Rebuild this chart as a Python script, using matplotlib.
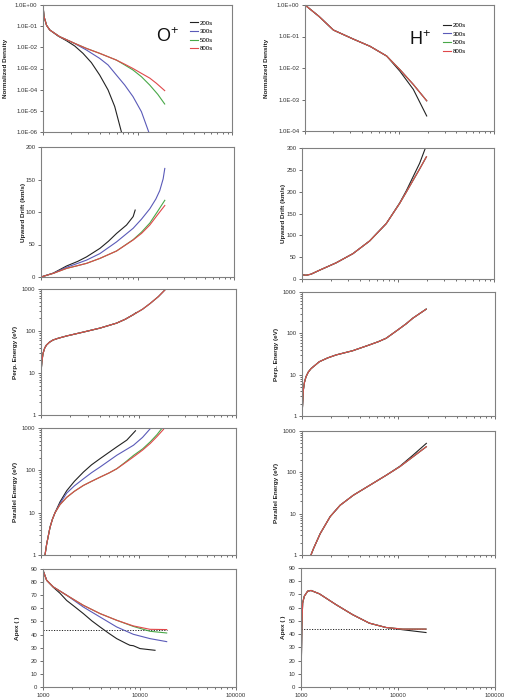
import matplotlib
matplotlib.use("Agg")
import matplotlib.pyplot as plt
from matplotlib.ticker import FixedLocator, LogLocator, NullFormatter, FuncFormatter, NullLocator

plt.rcParams['font.family'] = ['Liberation Sans', 'DejaVu Sans']
plt.rcParams['mathtext.fontset'] = 'custom'
plt.rcParams['mathtext.rm'] = 'Liberation Sans'
plt.rcParams['mathtext.default'] = 'regular'

# series names and colours (drawn in this order, 800s on top)
run_labels = ['200s', '300s', '500s', '800s']
run_colors = ['#222222', '#5a5ab8', '#48a848', '#e0484a']

# ---- O+ normalized density
o_dens_x_200 = [1000, 1025, 1065, 1090, 1180, 1442, 1767, 2165, 2650, 3250, 3980, 4880, 5740, 6760]
o_dens_y_200 = [1.0, 0.28, 0.16, 0.11, 0.066, 0.0343, 0.0207, 0.0116, 0.0052, 1.9e-3, 4.9e-4, 9.7e-5, 1.6e-5, 1e-6]
o_dens_x_300 = [1000, 1025, 1065, 1090, 1180, 1500, 2080, 2877, 3980, 4880, 5980, 7320, 8960, 11000, 13150]
o_dens_y_300 = [1.0, 0.28, 0.16, 0.11, 0.066, 0.032, 0.0166, 0.0075, 0.003, 1.47e-3, 4.9e-4, 1.66e-4, 4.7e-5, 9.1e-6, 1e-6]
o_dens_x_500 = [1000, 1025, 1065, 1090, 1180, 1500, 2080, 2880, 3980, 4880, 5980, 7320, 8960, 11000, 13460, 16400, 19400]
o_dens_y_500 = [1.0, 0.28, 0.16, 0.11, 0.066, 0.032, 0.0166, 0.0089, 0.0052, 0.0036, 0.0025, 1.47e-3, 8.5e-4, 4.1e-4, 1.66e-4, 6e-5, 2.1e-5]
o_dens_x_800 = [1000, 1025, 1065, 1090, 1180, 1500, 2080, 2880, 3980, 4880, 5980, 7320, 8960, 11000, 13500, 15850, 19400]
o_dens_y_800 = [1.0, 0.28, 0.16, 0.11, 0.066, 0.032, 0.0166, 0.0089, 0.0052, 0.0036, 0.0025, 1.6e-3, 1.0e-3, 5.9e-4, 3.5e-4, 2e-4, 9e-5]

# ---- H+ normalized density
h_dens_x = [1000, 1400, 2000, 3240, 4870, 7310, 10100, 14000, 19400]
h_dens_y_200 = [1.0, 0.44, 0.16, 0.083, 0.049, 0.024, 0.0079, 0.0021, 0.0003]
h_dens_y_300 = [1.0, 0.44, 0.16, 0.083, 0.049, 0.024, 0.0089, 0.003, 0.00091]
h_dens_y_500 = [1.0, 0.44, 0.16, 0.083, 0.049, 0.024, 0.0089, 0.003, 0.00091]
h_dens_y_800 = [1.0, 0.44, 0.16, 0.083, 0.049, 0.024, 0.0089, 0.003, 0.00091]

# ---- O+ upward drift (km/s)
o_drift_x_200 = [1000, 1340, 1844, 2400, 2967, 4074, 5000, 6064, 7700, 9020, 9460]
o_drift_y_200 = [0, 6, 17, 24, 31, 44, 55, 67, 80, 93, 103]
o_drift_x_300 = [1000, 1340, 1844, 2400, 2967, 4074, 6064, 9020, 11000, 13420, 15500, 17020, 18440, 19180]
o_drift_y_300 = [0, 5.8, 15, 21, 26, 36, 54, 75, 89, 105, 120, 133, 151, 167]
o_drift_x_500 = [1000, 1340, 1844, 2400, 2967, 4074, 6064, 9020, 11000, 13420, 16000, 19180]
o_drift_y_500 = [0, 5.6, 13.3, 17.5, 21, 28.6, 40, 57.5, 69, 83, 100, 118]
o_drift_x_800 = [1000, 1340, 1844, 2400, 2967, 4074, 6064, 9020, 11000, 13420, 16000, 19180]
o_drift_y_800 = [0, 5.6, 13.3, 17.5, 21, 28.6, 40, 57, 67, 80, 95, 110]

# ---- H+ upward drift (km/s)
h_drift_x_200 = [1000, 1100, 1240, 1518, 2266, 3388, 5058, 7551, 10400, 12200, 14350, 16800, 19300]
h_drift_y_200 = [10, 8.5, 11, 20, 37, 58, 87, 127, 174, 202, 234, 265, 300]
h_drift_x_800 = [1000, 1100, 1240, 1518, 2266, 3388, 5058, 7551, 10400, 12200, 14350, 16800, 19780]
h_drift_y_800 = [10, 8.5, 11, 20, 37, 58, 87, 127, 173, 199, 226, 252, 280]

# ---- O+ perpendicular energy (eV)
o_perp_x = [1000, 1020, 1048, 1090, 1135, 1220, 1328, 1496, 1823, 2704, 4018, 5960, 7300, 8850, 11000, 13130, 16000, 18740]
o_perp_y = [10, 18, 29, 39, 46, 54, 61, 67, 76, 94, 117, 154, 190, 245, 330, 450, 660, 960]
o_perp_x_200 = [1000, 1020, 1048, 1090, 1135, 1220, 1328, 1496, 1823, 2704, 4018, 5960, 7300, 8850, 9460]
o_perp_y_200 = [10, 18, 29, 39, 46, 54, 61, 67, 76, 94, 117, 154, 190, 245, 275]

# ---- H+ perpendicular energy (eV)
h_perp_x = [1000, 1016, 1032, 1060, 1100, 1160, 1240, 1513, 1850, 2254, 3357, 5000, 6200, 7447, 9840, 12000, 14090, 19370]
h_perp_y = [1, 2.0, 4.2, 6.5, 8.9, 11.5, 14, 20.6, 25.5, 30, 38, 52.5, 63, 76, 121, 170, 233, 385]

# ---- O+ parallel energy (eV)
o_para_x_200 = [1099, 1143, 1237, 1310, 1393, 1567, 1835, 2200, 2723, 3300, 4037, 5987, 7590, 9310]
o_para_y_200 = [1, 1.8, 4.5, 7, 10, 18, 33, 55, 91, 135, 189, 358, 518, 860]
o_para_x_300 = [1099, 1143, 1237, 1310, 1393, 1567, 1835, 2200, 2723, 3300, 4037, 5987, 8885, 11000, 13390]
o_para_y_300 = [1, 1.8, 4.5, 7, 10, 16.5, 29, 43, 63, 88, 120, 227, 392, 600, 1000]
o_para_x_500 = [1099, 1143, 1237, 1310, 1393, 1567, 1835, 2200, 2723, 3300, 4037, 5000, 5987, 7300, 8885, 11000, 13180, 15500, 17500]
o_para_y_500 = [1, 1.8, 4.5, 7, 10, 15.5, 23, 32, 44, 55, 69, 87, 109, 155, 225, 320, 470, 700, 1000]
o_para_x_800 = [1099, 1143, 1237, 1310, 1393, 1567, 1835, 2200, 2723, 3300, 4037, 5000, 5987, 7300, 8885, 11000, 13180, 15500, 18060]
o_para_y_800 = [1, 1.8, 4.5, 7, 10, 15.5, 23, 32, 44, 55, 69, 87, 109, 150, 208, 300, 430, 630, 930]

# ---- H+ parallel energy (eV)
h_para_x = [1238, 1319, 1545, 1959, 2485, 3409, 5062, 7519, 10320, 14170, 19440]
h_para_y_200 = [1, 1.45, 3.3, 8.5, 16, 28, 49, 86, 140, 262, 502]
h_para_y_800 = [1, 1.45, 3.3, 8.5, 16, 28, 49, 86, 137, 239, 417]

# ---- O+ apex (deg)
o_apex_x_200 = [1000, 1012, 1091, 1280, 1500, 1759, 2150, 2618, 3200, 3897, 4800, 5800, 7360, 7970, 8630, 10120, 14480]
o_apex_y_200 = [0, 88, 81.4, 76, 71.5, 66, 61, 56, 50.5, 45.8, 41, 36.9, 33, 31.8, 31.5, 29.3, 28]
o_apex_x_300 = [1000, 1012, 1091, 1280, 1759, 2618, 3897, 5800, 8630, 12850, 19130]
o_apex_y_300 = [0, 88, 81.4, 76.3, 70, 61, 53.4, 45.8, 40.2, 36.9, 34.6]
o_apex_x_500 = [1000, 1012, 1091, 1280, 1759, 2618, 3897, 5800, 8630, 12850, 19130]
o_apex_y_500 = [0, 88, 81.4, 76.3, 70, 62.3, 56, 50.9, 46.2, 42.5, 41.2]
o_apex_x_800 = [1000, 1012, 1091, 1280, 1759, 2618, 3897, 5800, 8630, 12850, 19130]
o_apex_y_800 = [0, 88, 81.4, 76.3, 70, 62.3, 56, 50.9, 46.6, 44, 43.8]

# ---- H+ apex (deg)
h_apex_x = [1000, 1020, 1040, 1082, 1172, 1268, 1545, 2296, 3409, 5062, 7519, 11170, 19440]
h_apex_y_200 = [0, 45, 63.6, 68.7, 72.5, 73, 70.5, 62.3, 54.7, 48.3, 45, 43.3, 41.2]
h_apex_y_800 = [0, 45, 63.6, 68.7, 72.5, 73, 70.5, 62.3, 54.7, 48.3, 45, 43.8, 43.8]

# dotted reference apex
ref_apex_x = [1000, 19500]
ref_apex_y = [43.8, 43.8]

W, H = 506, 698
fig = plt.figure(figsize=(W / 100, H / 100), dpi=100)


def add_axes_px(x0, y0, x1, y1):
    return fig.add_axes([x0 / W, 1 - y1 / H, (x1 - x0) / W, (y1 - y0) / H])


def style(ax, bottom_labels=False):
    ax.set_xscale('log')
    ax.set_xlim(1000, 100000)
    for s in ax.spines.values():
        s.set_color('#808080')
        s.set_linewidth(0.8)
    ax.tick_params(axis='both', which='both', direction='out', labelsize=4.3,
                   colors='#333333', width=0.5, pad=1.5)
    ax.tick_params(which='major', length=2.5)
    ax.tick_params(which='minor', length=1.5)
    ax.xaxis.set_major_locator(FixedLocator([1000, 10000, 100000]))
    ax.xaxis.set_minor_locator(LogLocator(base=10, subs=range(2, 10)))
    ax.xaxis.set_minor_formatter(NullFormatter())
    if bottom_labels:
        ax.xaxis.set_major_formatter(FuncFormatter(lambda v, p: f"{v:.0f}"))
    else:
        ax.xaxis.set_major_formatter(NullFormatter())


def ylab(ax, text, xpx, x0, x1):
    ax.set_ylabel(text, fontsize=4.6, fontweight='bold', color='#222222')
    ax.yaxis.set_label_coords((xpx - x0) / (x1 - x0), 0.5)


def curves(ax, series):
    for (xs, ys), c in zip(series, run_colors):
        ax.plot(xs, ys, color=c, lw=0.8)


left = [(43, 5, 232, 132), (41, 147, 234, 277), (41, 289, 236, 415), (41, 428, 236, 555), (43, 569, 236, 687)]
right = [(305, 5, 494, 131), (302, 148, 494, 279), (302, 292, 495, 416), (302, 431, 495, 555), (301, 568, 495, 687)]
left_lab = [8, 26, 18, 18, 20]
right_lab = [269, 286, 279, 279, 286]

sci = FuncFormatter(lambda v, p: f"{v:.1E}")
plain = FuncFormatter(lambda v, p: f"{v:g}")

# row 1: density
ax = add_axes_px(*left[0])
style(ax)
curves(ax, [(o_dens_x_200, o_dens_y_200), (o_dens_x_300, o_dens_y_300),
            (o_dens_x_500, o_dens_y_500), (o_dens_x_800, o_dens_y_800)])
ax.set_yscale('log')
ax.set_ylim(1e-6, 1)
ax.yaxis.set_major_locator(FixedLocator([10.0 ** k for k in range(-6, 1)]))
ax.yaxis.set_major_formatter(sci)
ax.yaxis.set_minor_locator(NullLocator())
ylab(ax, 'Normalized Density', left_lab[0], left[0][0], left[0][2])
ax.text(0.6, 0.71, 'O$^{+}$', transform=ax.transAxes, fontsize=13, color='#111111')
ax.legend(run_labels, loc='upper left', bbox_to_anchor=(0.78, 0.88), frameon=False,
          fontsize=4.4, handlelength=1.3, handletextpad=0.3, labelspacing=0.55,
          borderaxespad=0, borderpad=0)

ax = add_axes_px(*right[0])
style(ax)
curves(ax, [(h_dens_x, h_dens_y_200), (h_dens_x, h_dens_y_300),
            (h_dens_x, h_dens_y_500), (h_dens_x, h_dens_y_800)])
ax.set_yscale('log')
ax.set_ylim(1e-4, 1)
ax.yaxis.set_major_locator(FixedLocator([10.0 ** k for k in range(-4, 1)]))
ax.yaxis.set_major_formatter(sci)
ax.yaxis.set_minor_locator(NullLocator())
ylab(ax, 'Normalized Density', right_lab[0], right[0][0], right[0][2])
ax.text(0.55, 0.68, 'H$^{+}$', transform=ax.transAxes, fontsize=13, color='#111111')
ax.legend(run_labels, loc='upper left', bbox_to_anchor=(0.73, 0.86), frameon=False,
          fontsize=4.4, handlelength=1.3, handletextpad=0.3, labelspacing=0.55,
          borderaxespad=0, borderpad=0)

# row 2: upward drift
ax = add_axes_px(*left[1])
style(ax)
curves(ax, [(o_drift_x_200, o_drift_y_200), (o_drift_x_300, o_drift_y_300),
            (o_drift_x_500, o_drift_y_500), (o_drift_x_800, o_drift_y_800)])
ax.set_ylim(0, 200)
ax.yaxis.set_major_locator(FixedLocator(range(0, 201, 50)))
ylab(ax, 'Upward Drift (km/s)', left_lab[1], left[1][0], left[1][2])

ax = add_axes_px(*right[1])
style(ax)
curves(ax, [(h_drift_x_200, h_drift_y_200), (h_drift_x_800, h_drift_y_800),
            (h_drift_x_800, h_drift_y_800), (h_drift_x_800, h_drift_y_800)])
ax.set_ylim(0, 300)
ax.yaxis.set_major_locator(FixedLocator(range(0, 301, 50)))
ylab(ax, 'Upward Drift (km/s)', right_lab[1], right[1][0], right[1][2])


# rows 3-4: energies
def energy_axis(ax):
    ax.set_yscale('log')
    ax.set_ylim(1, 1000)
    ax.yaxis.set_major_locator(FixedLocator([1, 10, 100, 1000]))
    ax.yaxis.set_major_formatter(plain)
    ax.yaxis.set_minor_locator(LogLocator(base=10, subs=range(2, 10)))
    ax.yaxis.set_minor_formatter(NullFormatter())


ax = add_axes_px(*left[2])
style(ax)
curves(ax, [(o_perp_x_200, o_perp_y_200), (o_perp_x, o_perp_y),
            (o_perp_x, o_perp_y), (o_perp_x, o_perp_y)])
energy_axis(ax)
ylab(ax, 'Perp. Energy (eV)', left_lab[2], left[2][0], left[2][2])

ax = add_axes_px(*right[2])
style(ax)
curves(ax, [(h_perp_x, h_perp_y), (h_perp_x, h_perp_y),
            (h_perp_x, h_perp_y), (h_perp_x, h_perp_y)])
energy_axis(ax)
ylab(ax, 'Perp. Energy (eV)', right_lab[2], right[2][0], right[2][2])

ax = add_axes_px(*left[3])
style(ax)
curves(ax, [(o_para_x_200, o_para_y_200), (o_para_x_300, o_para_y_300),
            (o_para_x_500, o_para_y_500), (o_para_x_800, o_para_y_800)])
energy_axis(ax)
ylab(ax, 'Parallel Energy (eV)', left_lab[3], left[3][0], left[3][2])

ax = add_axes_px(*right[3])
style(ax)
curves(ax, [(h_para_x, h_para_y_200), (h_para_x, h_para_y_800),
            (h_para_x, h_para_y_800), (h_para_x, h_para_y_800)])
energy_axis(ax)
ylab(ax, 'Parallel Energy (eV)', right_lab[3], right[3][0], right[3][2])

# row 5: apex
ax = add_axes_px(*left[4])
style(ax, bottom_labels=True)
ax.plot(ref_apex_x, ref_apex_y, color='#222222', lw=0.7, ls=(0, (1.2, 1.5)))
curves(ax, [(o_apex_x_200, o_apex_y_200), (o_apex_x_300, o_apex_y_300),
            (o_apex_x_500, o_apex_y_500), (o_apex_x_800, o_apex_y_800)])
ax.set_ylim(0, 90)
ax.yaxis.set_major_locator(FixedLocator(range(0, 91, 10)))
ylab(ax, 'Apex ( )', left_lab[4], left[4][0], left[4][2])

ax = add_axes_px(*right[4])
style(ax, bottom_labels=True)
ax.plot(ref_apex_x, ref_apex_y, color='#222222', lw=0.7, ls=(0, (1.2, 1.5)))
curves(ax, [(h_apex_x, h_apex_y_200), (h_apex_x, h_apex_y_800),
            (h_apex_x, h_apex_y_800), (h_apex_x, h_apex_y_800)])
ax.set_ylim(0, 90)
ax.yaxis.set_major_locator(FixedLocator(range(0, 91, 10)))
ylab(ax, 'Apex ( )', right_lab[4], right[4][0], right[4][2])

fig.savefig('out.png', dpi=100)
